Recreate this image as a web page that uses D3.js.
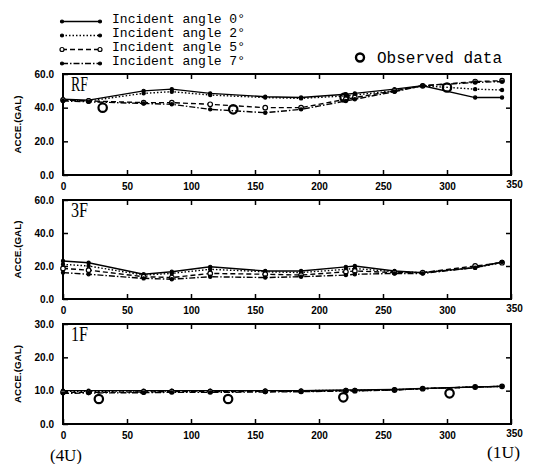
<!DOCTYPE html>
<html>
<head>
<meta charset="utf-8">
<script src="https://cdn.jsdelivr.net/npm/d3@7"></script>
<style>
  body { margin: 0; background: #fff; }
  .tick text { font-family: "Liberation Sans", Arial, sans-serif; font-weight: bold; font-size: 10px; }
</style>
</head>
<body>
<div id="chart"></div>
<script>
// positions along the building (same for every floor)
var positions = [0, 20, 63, 85, 115, 158, 186, 221, 228, 259, 281, 322, 343];

// RF
var rfAngle0 = [45, 44.5, 50, 51, 48.5, 46.5, 46, 48, 48.5, 51, 53, 46, 46];
var rfAngle2 = [44.5, 44, 48.5, 49.5, 47.5, 46, 45.5, 47, 47.5, 50, 53, 51, 50.5];
var rfAngle5 = [44.5, 44, 43, 43, 42, 40, 40, 45, 46, 50, 53, 55.5, 56];
var rfAngle7 = [44, 43.5, 42.5, 42, 39, 37, 39, 44, 45, 49.5, 53, 55, 55.5];
var rfObsX = [31, 133, 220, 300];
var rfObs = [40, 39, 46, 52];

// 3F
var f3Angle0 = [23, 22, 15, 16.5, 19.5, 17, 17, 19.5, 20, 17, 16, 19, 22.5];
var f3Angle2 = [21, 20, 14.5, 15.5, 18, 16.5, 16, 18, 18.5, 16.5, 16, 19, 22];
var f3Angle5 = [18.5, 17.5, 13.5, 13, 15.5, 15, 14.5, 16.5, 17, 16, 16, 20, 22];
var f3Angle7 = [16, 15, 12.5, 12, 13.5, 13, 13.5, 14.5, 15, 15.5, 15.5, 19, 22.5];
var f3ObsX = [];
var f3Obs = [];

// 1F
var f1Angle0 = [10, 10, 10, 10, 10, 10, 10, 10.2, 10.2, 10.4, 10.7, 11.1, 11.3];
var f1Angle2 = [9.8, 9.8, 9.9, 9.9, 9.9, 10, 10, 10.1, 10.1, 10.3, 10.6, 11.1, 11.3];
var f1Angle5 = [9.5, 9.5, 9.6, 9.7, 9.7, 9.8, 9.8, 10, 10, 10.2, 10.6, 11.1, 11.3];
var f1Angle7 = [9.2, 9.3, 9.4, 9.5, 9.5, 9.6, 9.7, 9.9, 9.9, 10.2, 10.6, 11.1, 11.3];
var f1ObsX = [28, 129, 219, 302];
var f1Obs = [7.5, 7.5, 8, 9.2];

var xTicks = [0, 50, 100, 150, 200, 250, 300, 350];
var legendNames = ["Incident angle 0\u00b0", "Incident angle 2\u00b0", "Incident angle 5\u00b0", "Incident angle 7\u00b0"];

var width = 541, height = 464;
var left = 63, right = 511;

var svg = d3.select("#chart").append("svg")
    .attr("width", width)
    .attr("height", height);

var x = d3.scaleLinear().domain([0, 350]).range([left, right]);

// line styles for the four angles
var styles = [
  {dash: null, marker: "dot"},
  {dash: "1.5,2", marker: "dot"},
  {dash: "5,3", marker: "circle"},
  {dash: "6,2,1.5,2", marker: "dot"}
];

var panels = [
  {name: "RF", top: 74, bottom: 175, max: 60, ticks: [0, 20, 40, 60], series: [rfAngle0, rfAngle2, rfAngle5, rfAngle7], obsX: rfObsX, obs: rfObs},
  {name: "3F", top: 200, bottom: 299, max: 60, ticks: [0, 20, 40, 60], series: [f3Angle0, f3Angle2, f3Angle5, f3Angle7], obsX: f3ObsX, obs: f3Obs},
  {name: "1F", top: 324, bottom: 424, max: 30, ticks: [0, 10, 20, 30], series: [f1Angle0, f1Angle2, f1Angle5, f1Angle7], obsX: f1ObsX, obs: f1Obs}
];

panels.forEach(function(p) {
  var y = d3.scaleLinear().domain([0, p.max]).range([p.bottom, p.top]);
  var g = svg.append("g");

  // frame
  g.append("rect")
    .attr("x", left).attr("y", p.top)
    .attr("width", right - left).attr("height", p.bottom - p.top)
    .attr("fill", "none").attr("stroke", "#000").attr("stroke-width", 2);

  // bottom axis, ticks point in
  var xb = g.append("g")
    .attr("transform", "translate(0," + p.bottom + ")")
    .call(d3.axisBottom(x).tickValues(xTicks).tickSizeInner(-5).tickSizeOuter(0).tickPadding(8));
  xb.select(".domain").remove();
  xb.selectAll(".tick line").attr("stroke-width", 1.5);
  xb.selectAll(".tick text").filter(function(d) { return d == 350; }).attr("dy", "0.45em").attr("dx", 3);

  var xt = g.append("g")
    .attr("transform", "translate(0," + p.top + ")")
    .call(d3.axisTop(x).tickValues(xTicks.slice(1, 7)).tickSizeInner(-5).tickSizeOuter(0).tickFormat(""));
  xt.select(".domain").remove();
  xt.selectAll(".tick line").attr("stroke-width", 1.5);

  // left axis
  var yl = g.append("g")
    .attr("transform", "translate(" + left + ",0)")
    .call(d3.axisLeft(y).tickValues(p.ticks).tickSizeInner(-5).tickSizeOuter(0).tickPadding(9).tickFormat(d3.format(".1f")));
  yl.select(".domain").remove();
  yl.selectAll(".tick line").attr("stroke-width", 1.5);

  var yr = g.append("g")
    .attr("transform", "translate(" + right + ",0)")
    .call(d3.axisRight(y).tickValues(p.ticks.slice(1, 3)).tickSizeInner(-5).tickSizeOuter(0).tickFormat(""));
  yr.select(".domain").remove();
  yr.selectAll(".tick line").attr("stroke-width", 1.5);

  // y label
  g.append("text")
    .attr("transform", "translate(21," + ((p.top + p.bottom) / 2) + ") rotate(-90)")
    .attr("text-anchor", "middle")
    .attr("font-family", "Liberation Sans, Arial, sans-serif")
    .attr("font-weight", "bold")
    .attr("font-size", 9)
    .attr("textLength", 58)
    .attr("lengthAdjust", "spacingAndGlyphs")
    .text("ACCE.(GAL)");

  // panel name
  g.append("text")
    .attr("x", 71).attr("y", p.top + 17)
    .attr("font-family", "Liberation Serif, Times New Roman, serif")
    .attr("font-size", 20)
    .attr("textLength", 17)
    .attr("lengthAdjust", "spacingAndGlyphs")
    .text(p.name);

  // series
  p.series.forEach(function(vals, i) {
    var pts = positions.map(function(px, j) { return [px, vals[j]]; });
    var line = d3.line()
      .x(function(d) { return x(d[0]); })
      .y(function(d) { return y(d[1]); });
    g.append("path")
      .datum(pts)
      .attr("d", line)
      .attr("fill", "none")
      .attr("stroke", "#000")
      .attr("stroke-width", 1.4)
      .attr("stroke-dasharray", styles[i].dash);
    g.selectAll(".m" + i)
      .data(pts)
      .enter().append("circle")
      .attr("cx", function(d) { return x(d[0]); })
      .attr("cy", function(d) { return y(d[1]); })
      .attr("r", styles[i].marker == "circle" ? 2.3 : 1.6)
      .attr("fill", styles[i].marker == "circle" ? "#fff" : "#000")
      .attr("stroke", "#000")
      .attr("stroke-width", 1.2);
  });

  // observed
  g.selectAll(".obs")
    .data(p.obsX.map(function(px, j) { return [px, p.obs[j]]; }))
    .enter().append("circle")
    .attr("cx", function(d) { return x(d[0]); })
    .attr("cy", function(d) { return y(d[1]); })
    .attr("r", 4.2)
    .attr("fill", "none")
    .attr("stroke", "#000")
    .attr("stroke-width", 2.2);
});

// legend
var legend = svg.append("g");
legendNames.forEach(function(name, i) {
  var by = 22.5 + i * 14;
  legend.append("line")
    .attr("x1", 62).attr("x2", 100)
    .attr("y1", by - 1).attr("y2", by - 1)
    .attr("stroke", "#000").attr("stroke-width", 1.4)
    .attr("stroke-dasharray", styles[i].dash);
  [62, 100].forEach(function(lx) {
    legend.append("circle")
      .attr("cx", lx).attr("cy", by - 1)
      .attr("r", styles[i].marker == "circle" ? 2 : 1.5)
      .attr("fill", styles[i].marker == "circle" ? "#fff" : "#000")
      .attr("stroke", "#000").attr("stroke-width", 1.2);
  });
  legend.append("text")
    .attr("x", 112).attr("y", by)
    .attr("font-family", "Liberation Mono, DejaVu Sans Mono, monospace")
    .attr("font-size", 13)
    .attr("textLength", 133)
    .attr("lengthAdjust", "spacingAndGlyphs")
    .text(name);
});

legend.append("circle")
  .attr("cx", 360).attr("cy", 57.5)
  .attr("r", 4).attr("fill", "none")
  .attr("stroke", "#000").attr("stroke-width", 2.4);
legend.append("text")
  .attr("x", 377).attr("y", 63)
  .attr("font-family", "Liberation Mono, DejaVu Sans Mono, monospace")
  .attr("font-size", 16)
  .attr("textLength", 125)
  .attr("lengthAdjust", "spacingAndGlyphs")
  .text("Observed data");

// end labels
svg.append("text")
  .attr("x", 50).attr("y", 461)
  .attr("font-family", "Liberation Serif, Times New Roman, serif")
  .attr("font-size", 17)
  .attr("textLength", 32)
  .attr("lengthAdjust", "spacingAndGlyphs")
  .text("(4U)");
svg.append("text")
  .attr("x", 487).attr("y", 458)
  .attr("font-family", "Liberation Serif, Times New Roman, serif")
  .attr("font-size", 17)
  .attr("textLength", 33)
  .attr("lengthAdjust", "spacingAndGlyphs")
  .text("(1U)");
</script>
</body>
</html>
